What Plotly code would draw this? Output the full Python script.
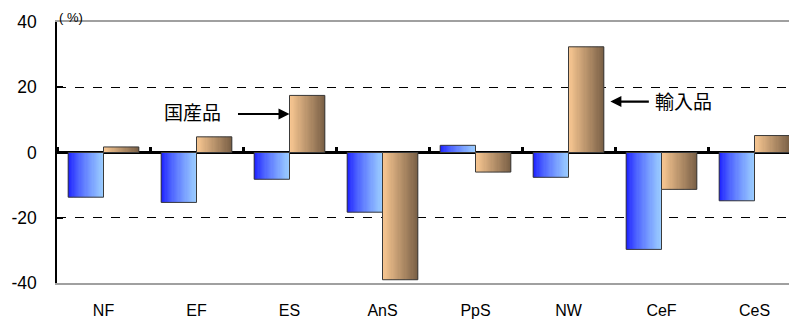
import plotly.graph_objects as go

# ---- data ----
categories = ["NF", "EF", "ES", "AnS", "PpS", "NW", "CeF", "CeS"]
domestic = [-13.7, -15.3, -8.2, -18.3, 2.2, -7.6, -29.7, -14.8]   # 国産品 (blue)
imported = [1.7, 4.8, 17.5, -39.0, -6.0, 32.4, -11.3, 5.2]        # 輸入品 (orange)
y_ticks = [-40, -20, 0, 20, 40]
y_ticktext = ["-40", "-20", "0", "20", "40"]

FONT = "Liberation Sans, Arial, sans-serif"
CJK = "Noto Sans CJK JP, sans-serif"

BW = 0.38       # bar width in category units
N = 30          # gradient slices


def lerp(c1, c2, t):
    return "rgb(%d,%d,%d)" % tuple(round(a + (b - a) * t) for a, b in zip(c1, c2))


fig = go.Figure()


def gradient_bars(vals, base_off, c_left, c_right, gamma):
    w = BW / N
    for k in range(N):
        t = (k + 0.5) / N
        col = lerp(c_left, c_right, t ** gamma)
        width = w * 1.6 if k < N - 1 else w
        fig.add_trace(go.Bar(
            x=categories, y=vals, offset=base_off + k * w, width=width,
            marker=dict(color=col, line=dict(width=0)),
            showlegend=False, hoverinfo="skip"))
    fig.add_trace(go.Bar(
        x=categories, y=vals, offset=base_off, width=BW,
        marker=dict(color="rgba(0,0,0,0)", line=dict(color="#3a3a3a", width=1)),
        showlegend=False, hoverinfo="skip"))


gradient_bars(domestic, -BW, (16, 16, 255), (155, 205, 255), 0.7)
gradient_bars(imported, 0.0, (252, 202, 148), (122, 96, 70), 1.0)

# invisible trace to carry the boundary-tick axis
fig.add_trace(go.Scatter(x=[0], y=[0], xaxis="x2", mode="markers",
                         marker=dict(opacity=0), showlegend=False, hoverinfo="skip"))

XR = [-0.5, 7.457]

fig.update_layout(
    width=789, height=319,
    margin=dict(l=49, r=0, t=14, b=44, autoexpand=False),
    paper_bgcolor="white", plot_bgcolor="white",
    barmode="overlay",
    font=dict(family=FONT, size=17, color="black"),
    xaxis=dict(
        type="category", range=XR, automargin=False,
        showgrid=False, zeroline=False,
        showline=True, linecolor="#a0a0a0", linewidth=1.5, mirror=True,
        ticks="", tickfont=dict(size=16), ticklabelstandoff=12,
    ),
    xaxis2=dict(
        overlaying="x", anchor="free", position=0.5, side="top",
        type="linear", range=XR, automargin=False,
        tickvals=[i - 0.5 for i in range(9)],
        ticks="outside", ticklen=6, tickwidth=3, tickcolor="black",
        showticklabels=False, showgrid=False, zeroline=False, showline=False,
    ),
    yaxis=dict(
        range=[-40, 40], tickvals=y_ticks, ticktext=y_ticktext, automargin=False,
        showgrid=True, gridcolor="black", gridwidth=1, griddash="dash",
        zeroline=True, zerolinecolor="black", zerolinewidth=3,
        showline=True, linecolor="black", linewidth=1.5,
        ticks="inside", ticklen=6, tickwidth=1.5, tickcolor="black",
        tickfont=dict(size=17.5), ticklabelstandoff=15,
    ),
    annotations=[
        dict(text="( %)", xref="paper", yref="paper", x=0.0, y=1.0,
             xanchor="left", yanchor="bottom", showarrow=False,
             font=dict(size=13, family=FONT), yshift=-5, xshift=0),
        dict(text="国産品", x=0.96, y=12.6, xref="x", yref="y",
             showarrow=False, font=dict(size=19, family=CJK)),
        dict(text="", x=2.0, y=11.8, ax=1.43, ay=11.8,
             xref="x", yref="y", axref="x", ayref="y",
             showarrow=True, arrowhead=2, arrowsize=1, arrowwidth=2.2,
             arrowcolor="black", standoff=0, startstandoff=0),
        dict(text="輸入品", x=6.24, y=16.0, xref="x", yref="y",
             showarrow=False, font=dict(size=19, family=CJK)),
        dict(text="", x=5.45, y=15.6, ax=5.88, ay=15.6,
             xref="x", yref="y", axref="x", ayref="y",
             showarrow=True, arrowhead=2, arrowsize=1, arrowwidth=2.2,
             arrowcolor="black", standoff=0, startstandoff=0),
    ],
)

fig.write_html("out.html")
